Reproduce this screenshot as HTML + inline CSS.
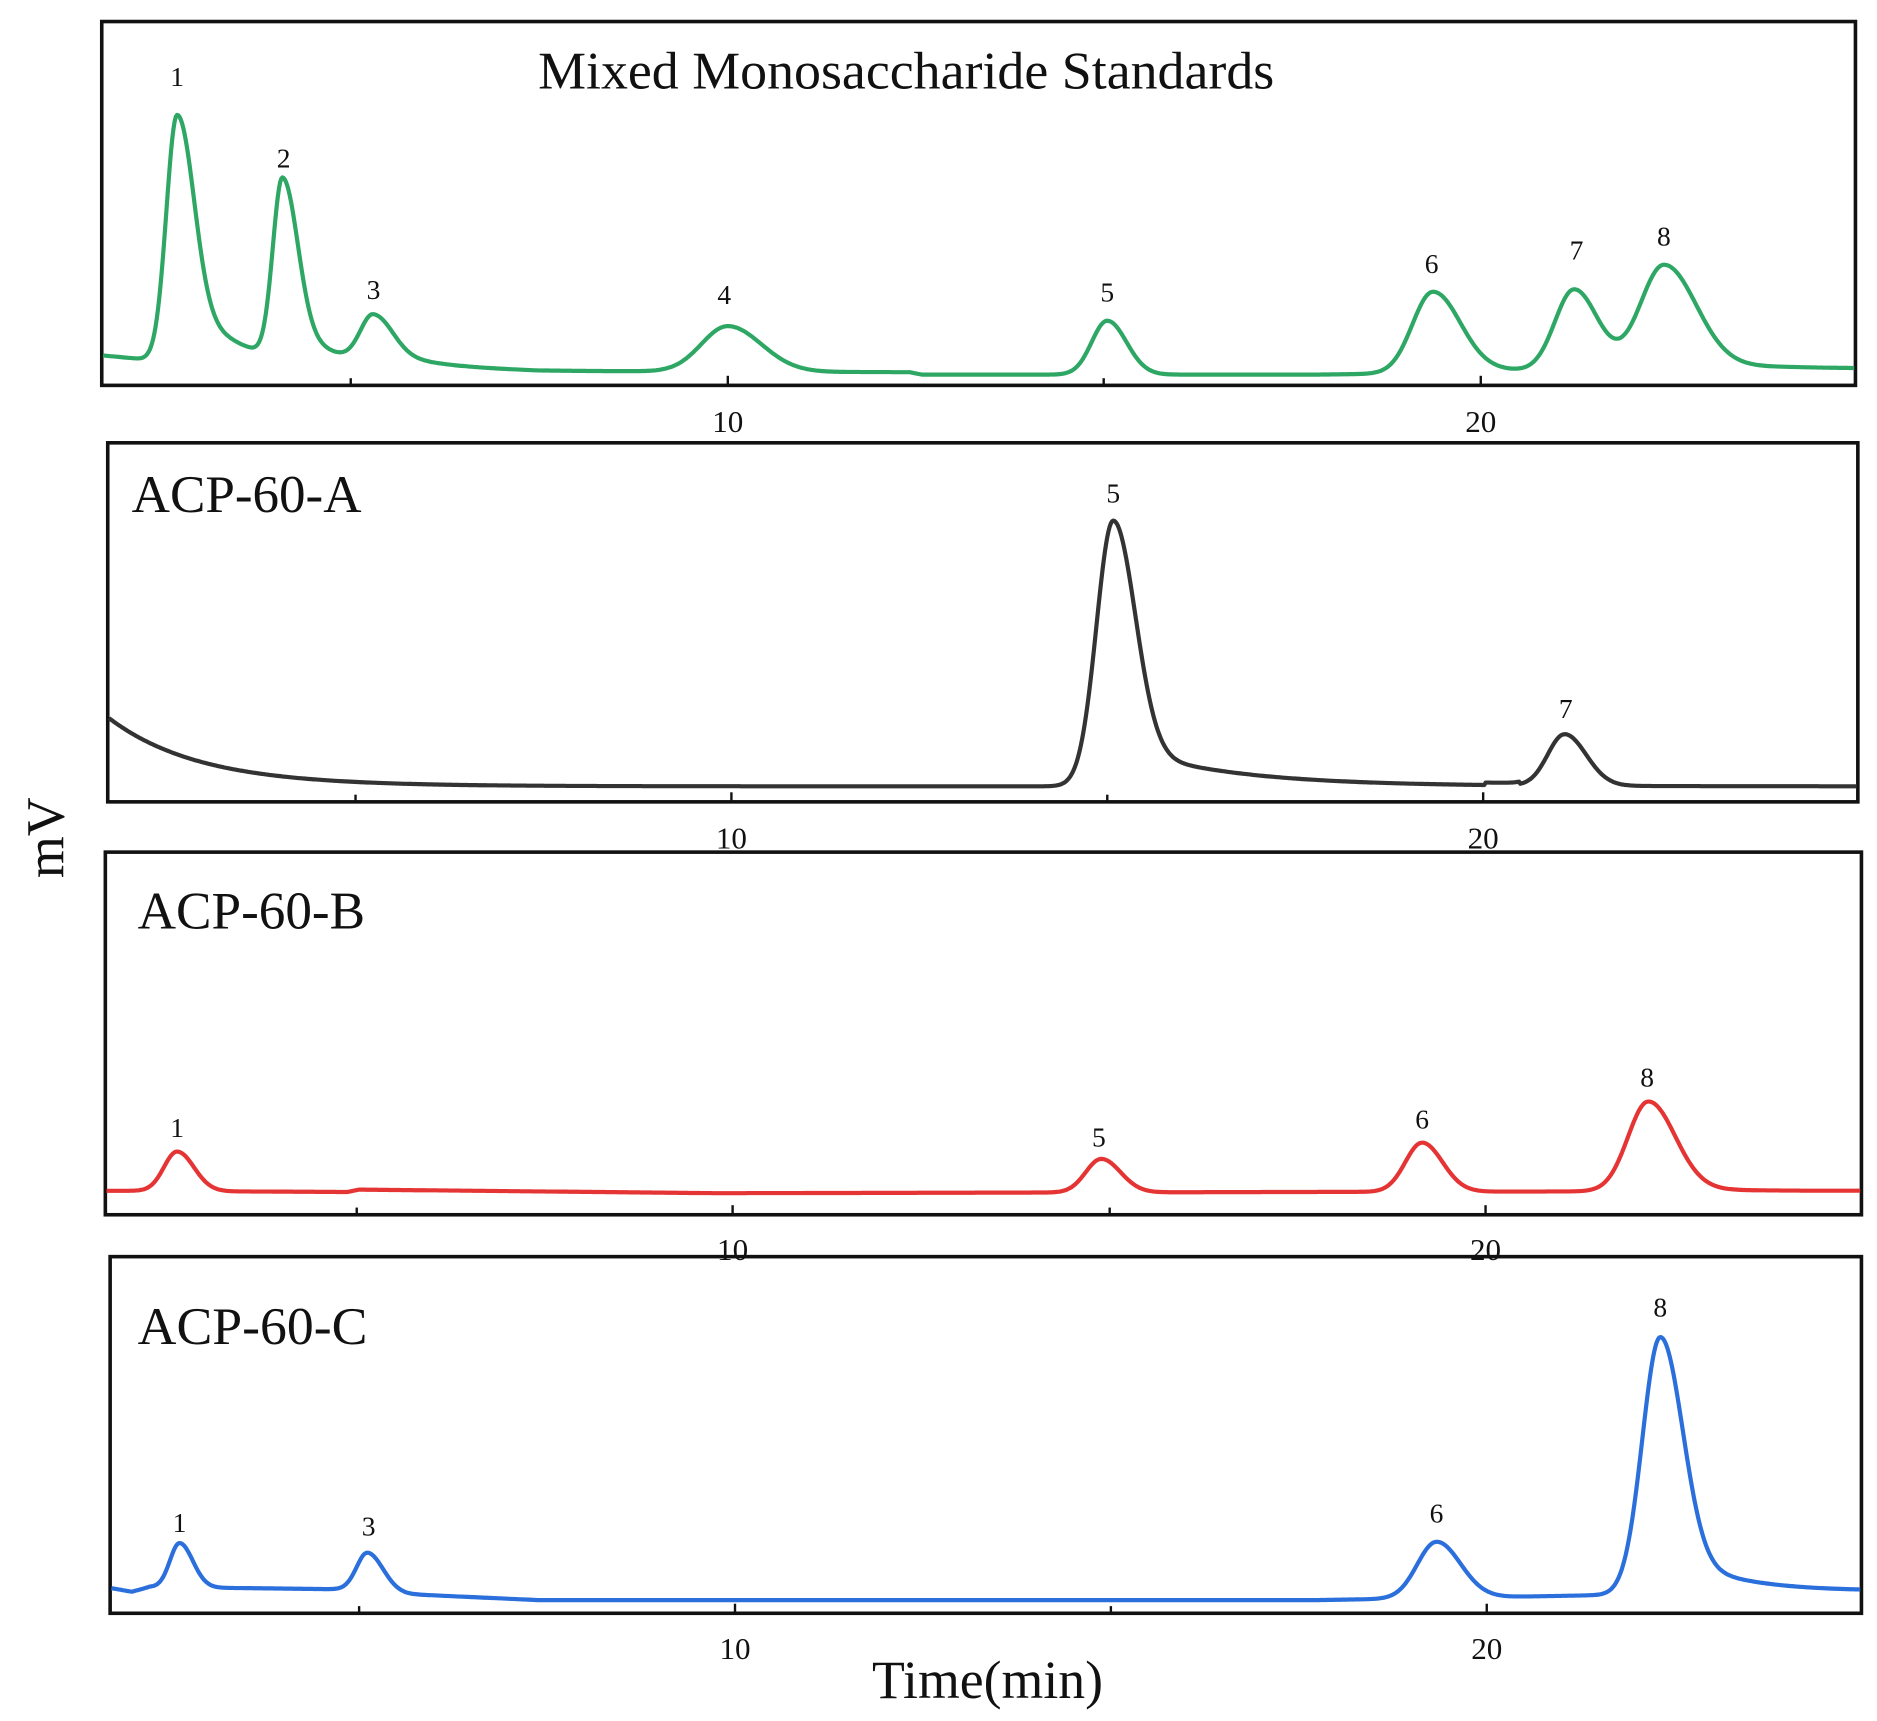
<!DOCTYPE html>
<html><head><meta charset="utf-8"><style>
html,body{margin:0;padding:0;background:#fff;width:1877px;height:1721px;overflow:hidden}
svg{display:block}
text{font-family:"Liberation Serif",serif;fill:#111}
</style></head><body>
<svg id="s" width="1877" height="1721" viewBox="0 0 1568 1438" preserveAspectRatio="none" xmlns="http://www.w3.org/2000/svg">
<g fill="none" stroke="#111" stroke-width="3">
<rect x="85" y="18" width="1465" height="304"/>
<rect x="90" y="370" width="1462" height="300"/>
<rect x="88" y="712" width="1467" height="303"/>
<rect x="92" y="1050" width="1463" height="298"/>
</g>
<g font-size="26" text-anchor="middle">
<text x="608" y="361">10</text><text x="1237" y="361">20</text>
<text x="611" y="709">10</text><text x="1239" y="709">20</text>
<text x="612" y="1053">10</text><text x="1241" y="1053">20</text>
<text x="614" y="1386">10</text><text x="1242" y="1386">20</text>
</g>
<g stroke="#111" stroke-width="2">
<line x1="293" y1="322" x2="293" y2="316"/><line x1="608" y1="322" x2="608" y2="314"/><line x1="922" y1="322" x2="922" y2="316"/><line x1="1237" y1="322" x2="1237" y2="314"/>
<line x1="297" y1="670" x2="297" y2="664"/><line x1="611" y1="670" x2="611" y2="662"/><line x1="925" y1="670" x2="925" y2="664"/><line x1="1239" y1="670" x2="1239" y2="662"/>
<line x1="298" y1="1015" x2="298" y2="1009"/><line x1="612" y1="1015" x2="612" y2="1007"/><line x1="927" y1="1015" x2="927" y2="1009"/><line x1="1241" y1="1015" x2="1241" y2="1007"/>
<line x1="300" y1="1348" x2="300" y2="1342"/><line x1="614" y1="1348" x2="614" y2="1340"/><line x1="928" y1="1348" x2="928" y2="1342"/><line x1="1242" y1="1348" x2="1242" y2="1340"/>
</g>
<text x="757" y="74" font-size="44" text-anchor="middle" textLength="615" lengthAdjust="spacingAndGlyphs">Mixed Monosaccharide Standards</text>
<text x="110" y="428" font-size="44" textLength="192" lengthAdjust="spacingAndGlyphs">ACP-60-A</text>
<text x="115" y="776" font-size="44" textLength="190" lengthAdjust="spacingAndGlyphs">ACP-60-B</text>
<text x="115" y="1123" font-size="44" textLength="192" lengthAdjust="spacingAndGlyphs">ACP-60-C</text>
<text x="825" y="1419" font-size="45" text-anchor="middle" textLength="193" lengthAdjust="spacingAndGlyphs">Time(min)</text>
<text transform="translate(53,700) rotate(-90)" font-size="45" text-anchor="middle">mV</text>
<g font-size="23" text-anchor="middle">
<text x="148" y="72">1</text><text x="237" y="140">2</text><text x="312" y="250">3</text><text x="605" y="254">4</text><text x="925" y="252">5</text><text x="1196" y="228">6</text><text x="1317" y="217">7</text><text x="1390" y="205">8</text>
<text x="930" y="420">5</text><text x="1308" y="600">7</text>
<text x="148" y="950">1</text><text x="918" y="958">5</text><text x="1188" y="943">6</text><text x="1376" y="908">8</text>
<text x="150" y="1280">1</text><text x="308" y="1283">3</text><text x="1200" y="1272">6</text><text x="1387" y="1100">8</text>
</g>
<g id="curves" fill="none" stroke-width="3.5" stroke-linejoin="round"></g>
</svg>
<script>
function interp(pts,x){if(typeof pts=="function")return pts(x);if(x<=pts[0][0])return pts[0][1];for(var i=1;i<pts.length;i++){if(x<=pts[i][0]){var a=pts[i-1],b=pts[i];return a[1]+(b[1]-a[1])*(x-a[0])/(b[0]-a[0]);}}return pts[pts.length-1][1];}
function pk(x,p){var c=p[0],h=p[1],sl=p[2],sr=p[3],tail=p[4]||0,tw=p[5]||60;var d=x-c;var s=d<0?sl:sr;var v=h*Math.exp(-0.5*d*d/(s*s));if(tail&&d>0){var r=d/sr;v+=tail*(1-Math.exp(-r*r/2))*Math.exp(-d/tw);}return v;}
function draw(x0,x1,base,peaks,color){var d="";for(var x=x0;x<=x1;x+=1){var y=interp(base,x);for(var i=0;i<peaks.length;i++)y-=pk(x,peaks[i]);d+=(x==x0?"M":"L")+x+","+y.toFixed(1);}
var p=document.createElementNS("http://www.w3.org/2000/svg","path");p.setAttribute("d",d);p.setAttribute("stroke",color);document.getElementById("curves").appendChild(p);}
draw(86,1549,[[86,297],[118,300],[300,306],[450,310],[760,311],[770,313],[1100,313],[1500,308],[1549,308]],
[[148,205,9,13,70,35],[236,150,8,12,40,30],[312,40,11,15,14,40],[608,38,22,28],[925,45,13,16],[1197,68,17,22,10,40],[1315,68,16,20],[1390,88,20,26,12,50]],"#2ea765");
draw(91,1551,function(x){return 657-57*Math.exp(-(x-91)/75)+(x>1240&&x<1270?-2:0);},
[[930,222,14,18,35,90],[1307,43,14,18]],"#333333");
draw(89,1554,[[89,995],[110,995],[290,996],[300,994],[600,997],[1554,995]],
[[148,33,11,14],[920,28,13,16],[1188,41,14,17],[1377,75,17,22,6,40]],"#e53434");
draw(93,1554,[[93,1327],[110,1330],[125,1326],[290,1328],[340,1332],[450,1337],[1100,1337],[1330,1333],[1554,1330]],
[[150,37,8,11],[307,32,9,13],[1200,47,16,20],[1387,215,15,18,40,55]],"#2a6fdb");
</script>
</body></html>
